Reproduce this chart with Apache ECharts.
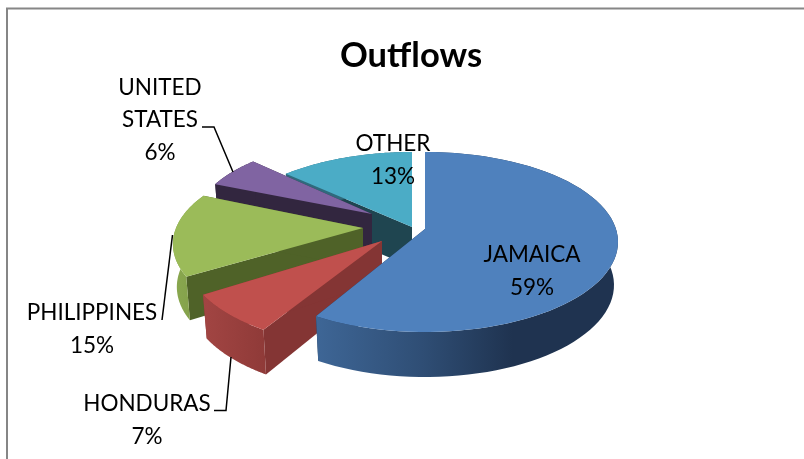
<!DOCTYPE html>
<html><head><meta charset="utf-8">
<style>html,body{margin:0;padding:0;background:#fff}#c{width:804px;height:459px}</style>
<script src="https://cdn.jsdelivr.net/npm/echarts@6/dist/echarts.min.js"></script>
</head><body><div id="c"></div>
<script>
const categories = ['JAMAICA','HONDURAS','PHILIPPINES','UNITED STATES','OTHER'];
const shares = [59,7,15,6,13];
const chartTitle = 'Outflows';

// layout of the simulated 3-D pie
const RX=193, RY=90, RXB=189, RYB=92, DEPTH_APEX=40, DEPTH_RIM=43;
const explode = [[425,229,13,1],[382,241,15.5,1.02],[363,228,16,0.985],[372,214,9,0.92],[412,227,15,1]];
const nudge = [[0,2],[4.6,7.8],[10.8,11.4],[6.4,4.8],[6,0]];
const topColor = ['#4f81bd','#c0504d','#9bbb59','#8064a2','#4bacc6'];
const wallColor = ['#1f3350','#843534','#4f6228','#32263f','#1f4550'];
const rimStops = [
 [[0,'#3e6696'],[0.35,'#2f4e75'],[0.65,'#1f3350'],[1,'#1f3350']],
 [[0,'#a24543'],[1,'#8f3a38']],
 [[0,'#8aa84f'],[1,'#7f9c48']],
 [[0,'#32263f'],[1,'#32263f']],
 [[0,'#2f6a7c'],[1,'#2f6a7c']]
];
const labelBox = [[532,271],[147,420],[92,329],[160,120],[393,160]];
const leaders = [[],[[214,410.5],[226,410.5],[231,357]],[[162,320],[172.5,235]],[[202,127],[214,127],[233,172]],[]];

const rad = d => d*Math.PI/180;
function sweep(i){
  let start=0; for(let k=0;k<i;k++) start+=shares[k]*3.6;
  return [start+nudge[i][0], start+shares[i]*3.6+nudge[i][1]];
}
function rim(i,t,lower){
  const [ax,ay,c,s]=explode[i], a=rad(t);
  return lower
    ? [ax+s*RXB*Math.sin(a), ay+c+DEPTH_RIM-s*RYB*Math.cos(a)]
    : [ax+s*RX*Math.sin(a), ay+c-s*RY*Math.cos(a)];
}
function arc(i,lower){
  const [a,b]=sweep(i), pts=[];
  for(let k=0;k<=72;k++) pts.push(rim(i,a+(b-a)*k/72,lower));
  return pts;
}
function renderSlice(params,api){
  const i=api.value(0);
  const [ax,ay]=explode[i];
  const top=arc(i,false), low=arc(i,true);
  const apexTop=[ax,ay], apexLow=[ax,ay+DEPTH_APEX];
  const n=top.length-1;
  const xs=top.concat(low).map(p=>p[0]);
  const x0=Math.min(...xs), x1=Math.max(...xs);
  const grad={type:'linear',x:x0,y:0,x2:x1,y2:0,global:true,
    colorStops:rimStops[i].map(s=>({offset:s[0],color:s[1]}))};
  const wall=(p)=>({type:'polygon',shape:{points:p},style:{fill:wallColor[i]}});
  const children=[
    wall([apexTop,top[0],low[0],apexLow]),
    wall([apexTop,top[n],low[n],apexLow]),
    {type:'polygon',shape:{points:top.concat(low.slice().reverse())},style:{fill:grad}},
    {type:'polygon',shape:{points:[apexTop].concat(top)},style:{fill:topColor[i]}}
  ];
  return {type:'group',children};
}
function renderLabel(params,api){
  const i=api.value(0);
  const name=categories[i].replace(' ','\n');
  return {type:'group',children:[
    {type:'text',x:labelBox[i][0],y:labelBox[i][1],z2:50,style:{
      text:name+'\n'+shares[i]+'%',fontFamily:'Lato',fontSize:22.5,lineHeight:32.5,
      fill:'#000',align:'center',verticalAlign:'middle'}},
    ...(leaders[i].length?[{type:'polyline',shape:{points:leaders[i]},z2:40,
      style:{stroke:'#000',lineWidth:1.5,fill:null}}]:[])
  ]};
}
const order=[4,3,2,1,0];
const chart=echarts.init(document.getElementById('c'),null,{renderer:'canvas'});
chart.setOption({
  animation:false,
  backgroundColor:'#fff',
  title:{text:chartTitle,left:406,top:33,textAlign:'center',
    textStyle:{fontFamily:'Lato',fontWeight:'bold',fontSize:34.5,color:'#000'}},
  graphic:[{type:'polyline',shape:{points:[[7,459],[7,8.5],[804,8.5]]},
    style:{stroke:'#868686',lineWidth:2,fill:null}}],
  series:[
    {type:'custom',coordinateSystem:'none',renderItem:renderSlice,data:order.map(i=>[i,shares[i]]),z:2,silent:true},
    {type:'custom',coordinateSystem:'none',renderItem:renderLabel,data:order.map(i=>[i,shares[i]]),z:3,silent:true}
  ]
});
</script></body></html>
